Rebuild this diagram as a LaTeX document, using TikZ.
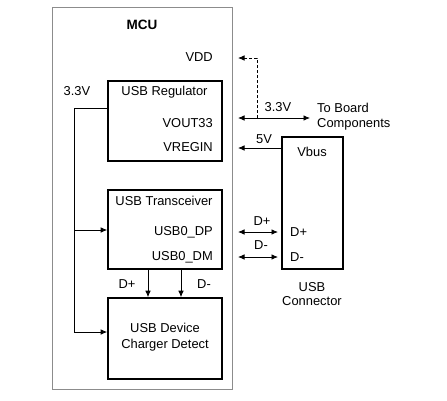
\documentclass[tikz,border=0pt]{standalone}
\usepackage{fontspec}
\setmainfont{Liberation Sans}
\usetikzlibrary{arrows.meta}
\begin{document}
\begin{tikzpicture}[x=1pt,y=-1pt,
  blk/.style={draw,line width=1.6pt,minimum width=114pt,inner sep=0pt},
  lbl/.style={font=\fontsize{12.9}{15}\selectfont,inner sep=0pt},
  arr/.style={line width=0.8pt,-{Latex[length=6.5pt,width=5.5pt]}},
  darr/.style={line width=0.8pt,{Latex[length=6.5pt,width=5.5pt]}-{Latex[length=6.5pt,width=5.5pt]}}]
\useasboundingbox (0,0) rectangle (447,400);
% MCU
\node[draw=black!45,line width=0.7pt,minimum width=180pt,minimum height=382pt,inner sep=0pt] (mcu) at (142,198) {};
\node[lbl,font=\fontsize{13.5}{15}\selectfont\bfseries] (mcut) at (142,25) {MCU};
\node[lbl,anchor=east] (vdd) at (213,57) {VDD};
% blocks
\node[blk,minimum height=80pt] (reg) at (165,121) {};
\node[blk,minimum height=79pt] (trans) at (165,229.5) {};
\node[blk,minimum height=81pt] (chg) at (165,338.5) {};
\node[draw,line width=1.6pt,minimum width=61pt,minimum height=132pt,inner sep=0pt] (conn) at (312.5,203) {};
% block texts
\node[lbl] (regt) at (164.5,92) {USB Regulator};
\node[lbl,anchor=east] (vout) at (213,123) {VOUT33};
\node[lbl,anchor=east] (vreg) at (213,147) {VREGIN};
\node[lbl] (trt) at (164,201) {USB Transceiver};
\node[lbl,anchor=east] (dp) at (213,232) {USB0\_DP};
\node[lbl,anchor=east] (dm) at (213,257) {USB0\_DM};
\node[lbl,align=center,font=\fontsize{12.9}{15.5}\selectfont] (chgt) at (165,337) {USB Device\\Charger Detect};
\node[lbl] (vbus) at (312,152) {Vbus};
\node[lbl,anchor=west] (cdp) at (290,232) {D+};
\node[lbl,anchor=west] (cdm) at (290,257) {D-};
\node[lbl,align=center,font=\fontsize{12.9}{14.5}\selectfont] (connt) at (312,294) {USB\\Connector};
\node[lbl] (v33) at (77,91) {3.3V};
\node[lbl] (tdp) at (127,284) {D+};
\node[lbl] (tdm) at (204,284) {D-};
\node[lbl] (o33) at (278,107) {3.3V};
\node[lbl,align=left,anchor=west,font=\fontsize{12.9}{15}\selectfont] (tbc) at (317,117) {To Board\\Components};
\node[lbl] (o5) at (264,139) {5V};
\node[lbl] (odp) at (262,221) {D+};
\node[lbl] (odm) at (261,245) {D-};
% coordinates
\coordinate (vddp) at (238,58);
\coordinate (vddc) at (257,58);
\coordinate (o33a) at (238,118);
\coordinate (o33b) at (310,118);
\coordinate (o33c) at (257,118);
\coordinate (vrp) at (238,148);
\coordinate (dpa) at (238,232);
\coordinate (dpb) at (278,232);
\coordinate (dma) at (238,257);
\coordinate (dmb) at (278,257);
\coordinate (bus1) at (74,108);
\coordinate (bus2) at (74,230);
\coordinate (bus3) at (74,332);
% 3.3V internal
\draw[line width=0.8pt] (reg.west |- bus1) -- (bus1) -- (bus3);
\draw[arr] (bus2) -- (trans.west |- bus2);
\draw[arr] (bus3) -- (chg.west |- bus3);
% D+ D- down
\draw[arr] (trans.south -| 148,0) -- (chg.north -| 148,0);
\draw[arr] (trans.south -| 181,0) -- (chg.north -| 181,0);
% right side
\draw[line width=0.8pt,dashed,dash pattern=on 3pt off 2pt,-{Latex[length=6.5pt,width=5.5pt]}] (o33c) -- (vddc) -- (vddp);
\draw[darr] (o33a) -- (o33b);
\draw[arr] (conn.west |- vrp) -- (vrp);
\draw[darr] (dpa) -- (dpb);
\draw[darr] (dma) -- (dmb);
\end{tikzpicture}
\end{document}
